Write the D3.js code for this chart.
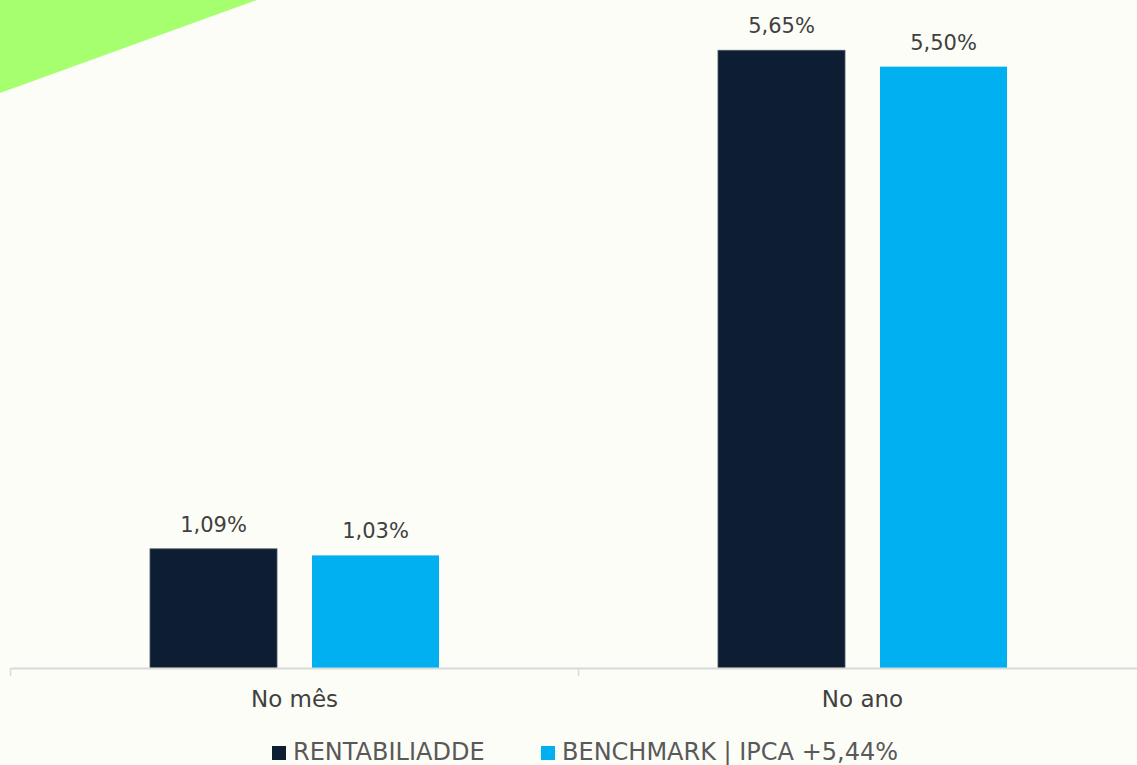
<!DOCTYPE html>
<html>
<head>
<meta charset="utf-8">
<script src="https://cdn.jsdelivr.net/npm/d3@7"></script>
<style>
  html, body { margin: 0; padding: 0; background: #fdfdf7; }
  svg { display: block; font-family: "DejaVu Sans", sans-serif; }
</style>
</head>
<body>
<div id="chart"></div>
<script>
// data
const categories = ["No mês", "No ano"];
const series = ["RENTABILIADDE", "BENCHMARK | IPCA +5,44%"];
const rentabilidade = [1.09, 5.65];
const benchmark = [1.03, 5.50];
const colors = ["#0d1e33", "#00b0f0"];

const width = 1137, height = 765;
const fmt = v => v.toFixed(2).replace(".", ",") + "%";

const svg = d3.select("#chart")
    .append("svg")
    .attr("width", width)
    .attr("height", height);

// background + green corner
svg.append("rect")
    .attr("width", width)
    .attr("height", height)
    .attr("fill", "#fdfdf7");

svg.append("path")
    .attr("d", "M0,0 L257,0 L0,93 Z")
    .attr("fill", "#a6ff6f");

// scales
const x0 = d3.scaleBand()
    .domain(categories)
    .range([10.5, 1146.5]);

const x1 = d3.scaleBand()
    .domain(series)
    .range([0, x0.bandwidth()])
    .paddingInner(0.216)
    .paddingOuter(0.861);

const y = d3.scaleLinear()
    .domain([0, 6])
    .range([668, 12]);

const rows = categories.map((c, i) => ({
    cat: c,
    values: [rentabilidade[i], benchmark[i]]
}));

// bars
const groups = svg.append("g")
    .selectAll("g")
    .data(rows)
    .join("g")
    .attr("transform", d => `translate(${x0(d.cat)},0)`);

groups.selectAll("rect")
    .data(d => d.values.map((v, j) => ({key: series[j], v: v, j: j})))
    .join("rect")
    .attr("x", d => x1(d.key))
    .attr("y", d => y(d.v))
    .attr("width", x1.bandwidth())
    .attr("height", d => y(0) - y(d.v))
    .attr("fill", d => colors[d.j])
    .attr("stroke", d => d.j === 0 ? "#4a5868" : "none")
    .attr("stroke-width", 0.8);

// value labels
groups.selectAll("text")
    .data(d => d.values.map((v, j) => ({key: series[j], v: v, j: j})))
    .join("text")
    .attr("x", d => x1(d.key) + x1.bandwidth() / 2)
    .attr("y", d => y(d.v) - 17)
    .attr("text-anchor", "middle")
    .style("font-size", "21px")
    .attr("fill", "#404040")
    .text(d => fmt(d.v));

// x axis
const xAxis = svg.append("g")
    .attr("transform", `translate(0,${y(0)})`)
    .call(d3.axisBottom(x0).tickSize(0).tickFormat(""));

xAxis.select(".domain")
    .attr("stroke", "#d9d9d9")
    .attr("stroke-width", 2);

// category boundary ticks
const bounds = [x0(categories[0]), x0(categories[1]), x0(categories[1]) + x0.bandwidth()];
svg.append("g")
    .selectAll("line")
    .data(bounds)
    .join("line")
    .attr("x1", d => d)
    .attr("x2", d => d)
    .attr("y1", y(0))
    .attr("y2", y(0) + 8)
    .attr("stroke", "#d9d9d9")
    .attr("stroke-width", 1.5);

svg.append("g")
    .selectAll("text")
    .data(categories)
    .join("text")
    .attr("x", d => x0(d) + x0.bandwidth() / 2)
    .attr("y", 707)
    .attr("text-anchor", "middle")
    .style("font-size", "23px")
    .attr("fill", "#404040")
    .text(d => d);

// legend
const legendX = [272, 541];
const legend = svg.append("g")
    .selectAll("g")
    .data(series)
    .join("g")
    .attr("transform", (d, i) => `translate(${legendX[i]},746)`);

legend.append("rect")
    .attr("width", 14)
    .attr("height", 14)
    .attr("fill", (d, i) => colors[i]);

legend.append("text")
    .attr("x", 21)
    .attr("y", 14)
    .style("font-size", "24px")
    .attr("fill", "#595959")
    .text(d => d);
</script>
</body>
</html>
